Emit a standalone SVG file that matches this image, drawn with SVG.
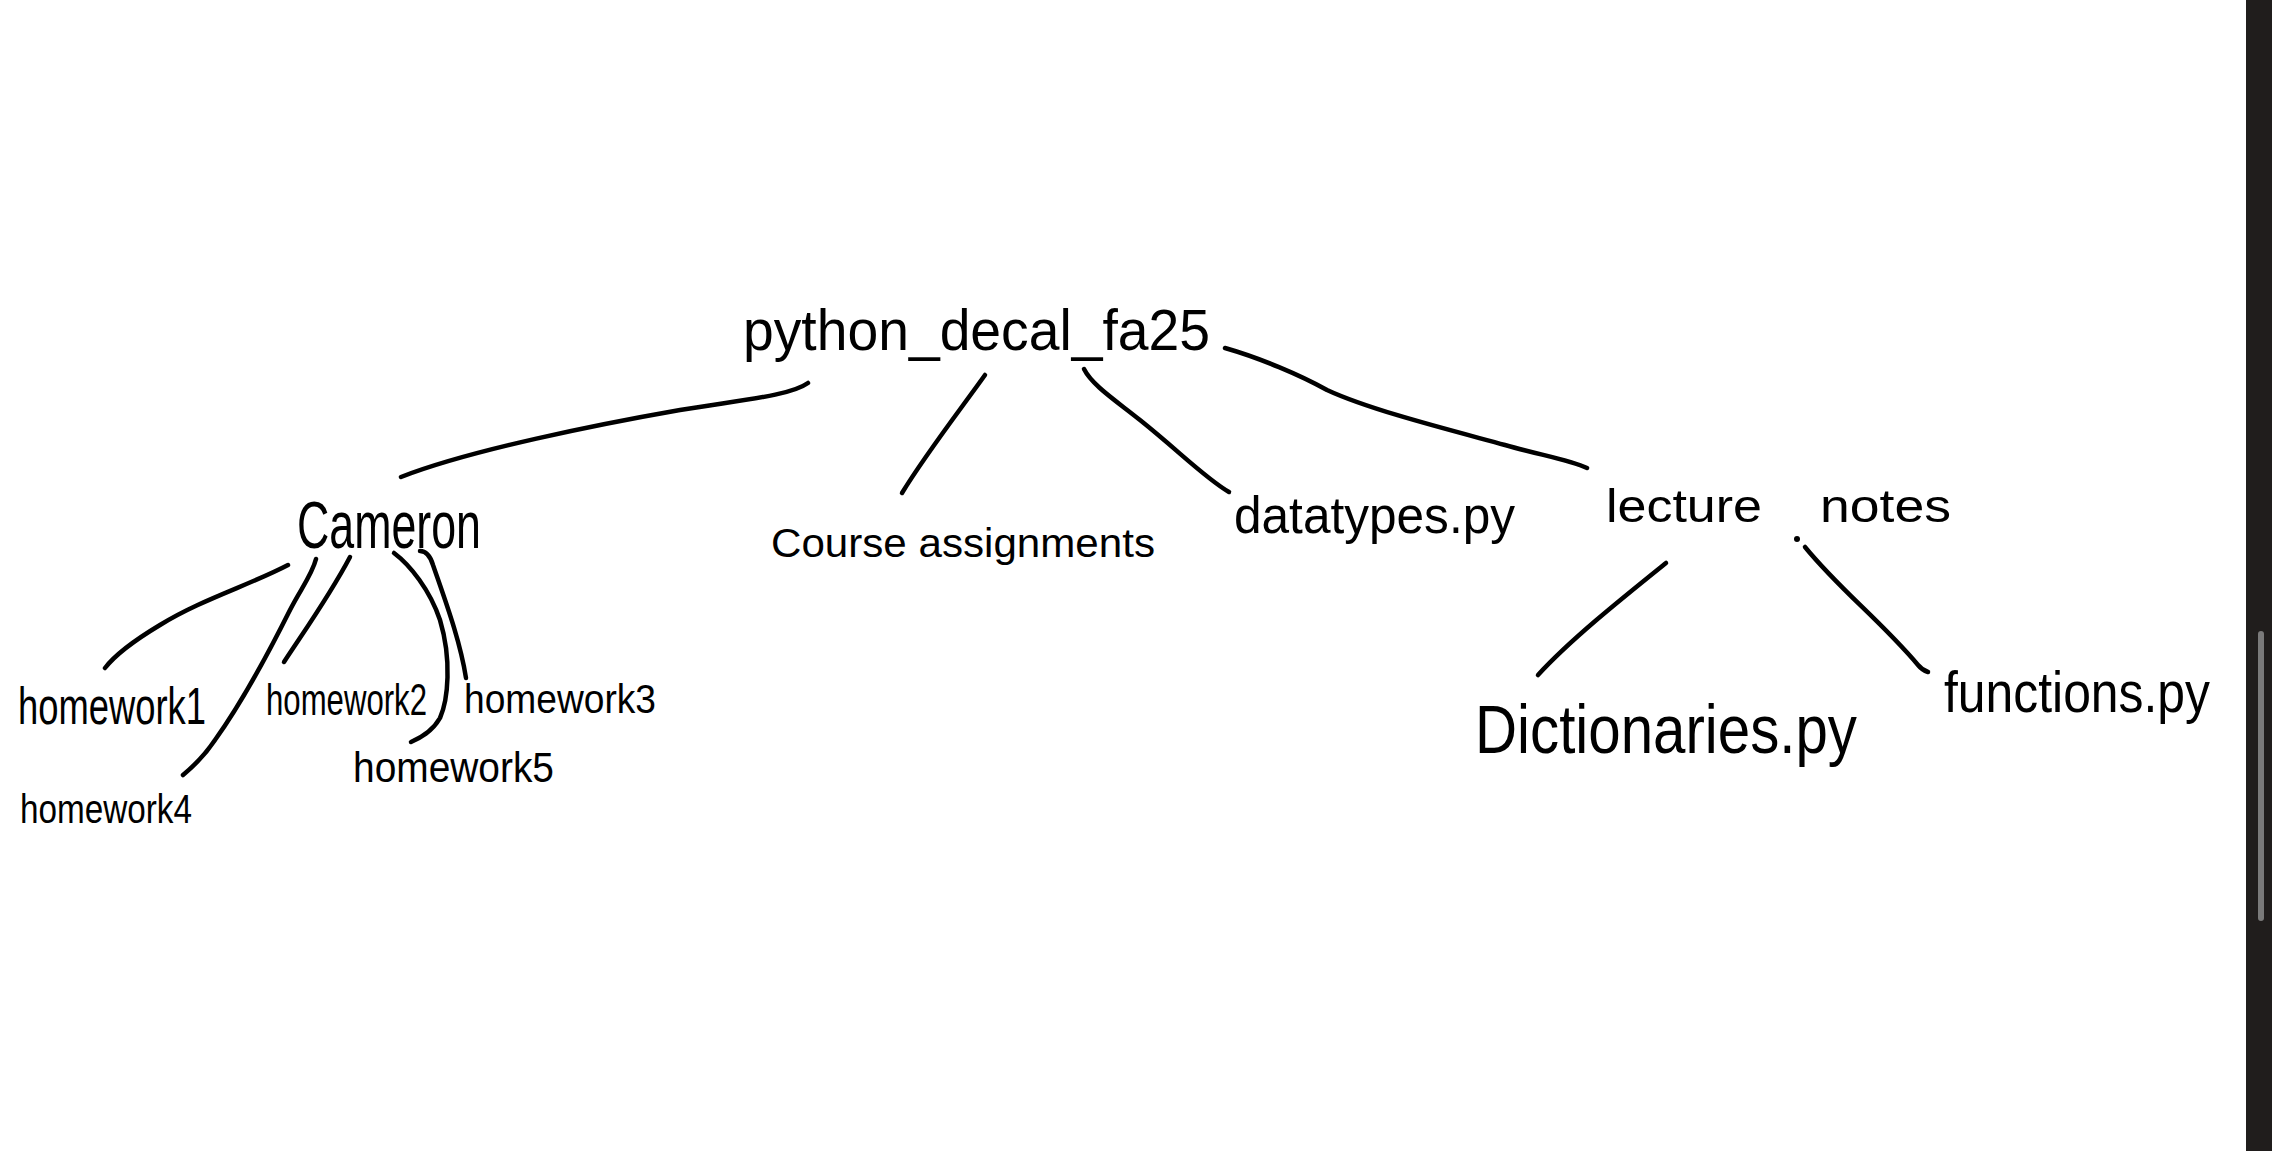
<svg xmlns="http://www.w3.org/2000/svg" width="2272" height="1151" viewBox="0 0 2272 1151">
<style>
.t{font-family:"Liberation Sans","DejaVu Sans",sans-serif;fill:#000;font-weight:normal}
.c{fill:none;stroke:#000;stroke-width:4.5;stroke-linecap:round;stroke-linejoin:round}
</style>
<rect x="0" y="0" width="2272" height="1151" fill="#fff"/>
<g id="connectors">
<path class="c" d="M808,383 C790,396 740,400 680,410 C600,424 470,450 401,477"/>
<path class="c" d="M985,375 C960,410 925,455 902,493"/>
<path class="c" d="M1084,369 C1092,385 1115,400 1140,420 C1180,452 1205,478 1229,492"/>
<path class="c" d="M1225,348 C1260,358 1300,375 1327,390 C1370,410 1450,430 1505,445 C1540,455 1570,460 1587,468"/>
<path class="c" d="M288,565 C250,585 200,600 160,625 C135,640 115,655 105,668"/>
<path class="c" d="M316,559 C312,575 300,590 290,610 C270,650 240,705 215,740 C205,755 195,765 183,775"/>
<path class="c" d="M350,557 C330,595 305,630 284,662"/>
<path class="c" d="M394,553 C410,565 430,590 440,620 C452,660 448,700 440,718 C432,732 420,738 411,742"/>
<path class="c" d="M420,551 C426,551 430,555 433,565 C445,600 460,640 466,678"/>
<path class="c" d="M1666,563 C1620,600 1570,640 1538,675"/>
<circle cx="1797" cy="539" r="3" fill="#000"/>
<path class="c" d="M1805,547 C1840,590 1880,620 1918,665 Q1922,670 1928,672"/>
</g>
<g id="root"><text class="t" x="743" y="350" font-size="58" textLength="467" lengthAdjust="spacingAndGlyphs">python_decal_fa25</text></g>
<g id="cameron"><text class="t" x="297" y="548" font-size="66" textLength="184" lengthAdjust="spacingAndGlyphs">Cameron</text></g>
<g id="course"><text class="t" x="771" y="557" font-size="40" textLength="384" lengthAdjust="spacingAndGlyphs">Course assignments</text></g>
<g id="datatypes"><text class="t" x="1234" y="533" font-size="52" textLength="281" lengthAdjust="spacingAndGlyphs">datatypes.py</text></g>
<g id="lecture"><text class="t" font-size="46"><tspan x="1606" y="522" textLength="156" lengthAdjust="spacingAndGlyphs">lecture</tspan> <tspan x="1820" y="522" textLength="131" lengthAdjust="spacingAndGlyphs">notes</tspan></text></g>
<g id="dictionaries"><text class="t" x="1475" y="753" font-size="68" textLength="382" lengthAdjust="spacingAndGlyphs">Dictionaries.py</text></g>
<g id="functions"><text class="t" x="1944" y="712" font-size="58" textLength="266" lengthAdjust="spacingAndGlyphs">functions.py</text></g>
<g id="hw1"><text class="t" transform="translate(18,724) scale(1,1.12)" x="0" y="0" font-size="46" textLength="188" lengthAdjust="spacingAndGlyphs">homework1</text></g>
<g id="hw2"><text class="t" transform="translate(266,715) scale(1,1.18)" x="0" y="0" font-size="37" textLength="161" lengthAdjust="spacingAndGlyphs">homework2</text></g>
<g id="hw3"><text class="t" x="464" y="713" font-size="40" textLength="192" lengthAdjust="spacingAndGlyphs">homework3</text></g>
<g id="hw4"><text class="t" x="20" y="823" font-size="40" textLength="172" lengthAdjust="spacingAndGlyphs">homework4</text></g>
<g id="hw5"><text class="t" x="353" y="782" font-size="42" textLength="201" lengthAdjust="spacingAndGlyphs">homework5</text></g>
<rect x="2246" y="0" width="26" height="1151" fill="#201d1c"/>
<rect x="2258" y="631" width="6" height="290" rx="3" fill="#7a7a7a"/>
</svg>
